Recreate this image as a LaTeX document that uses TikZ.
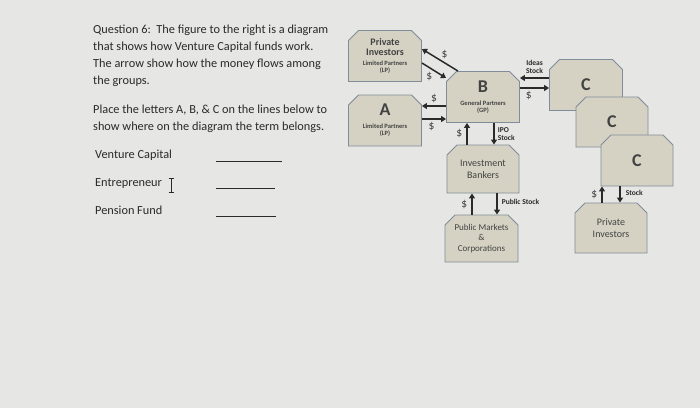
\documentclass[tikz,border=0pt]{standalone}
\usepackage{fontspec}
\setmainfont{Carlito}
\usetikzlibrary{arrows.meta, shapes.misc}
\definecolor{PaperGray}{HTML}{E6E6E4}
\definecolor{BoxFill}  {HTML}{D5D2C3}
\definecolor{BoxStroke}{HTML}{808C9A}
\definecolor{InkGray}  {HTML}{2A2A2A}
\definecolor{BoxInk}   {HTML}{424242}
\tikzset{
  vcbox/.style={
    chamfered rectangle, chamfered rectangle corners={north west, north east},
    chamfered rectangle xsep=5pt, chamfered rectangle ysep=5pt,
    draw=BoxStroke, fill=BoxFill, line width=0.9pt,
    minimum width=73pt, minimum height=51pt, inner sep=1pt,
    align=center, text=BoxInk, font=\fontsize{10}{12}\selectfont,
  },
  flow/.style={
    -{Triangle[length=5pt,width=6pt]}, draw=InkGray, line width=1.5pt,
  },
  dollar/.style={font=\fontsize{11.5}{13}\selectfont, text=BoxInk, inner sep=1pt},
  flowtxt/.style={
    font=\fontsize{7.5}{8}\selectfont\bfseries, text=InkGray,
    inner sep=1pt, align=left,
  },
  qtext/.style={
    anchor=base west, inner sep=0pt, text=InkGray,
    font=\fontsize{12.3}{14}\selectfont,
  },
  blank/.style={draw=InkGray, line width=0.6pt},
}
\newcommand{\tinyline}[1]{{\fontsize{6.5}{7}\selectfont\bfseries #1}}
\newcommand{\bigletter}[1]{{\fontsize{18}{18}\selectfont\bfseries #1}}

\begin{document}
\begin{tikzpicture}[x=1pt, y=-1pt]

% ── Page ──────────────────────────────────────────────────────────────────
\fill[PaperGray] (0,0) rectangle (700,408);
\path[use as bounding box] (0,0) rectangle (700,408);

% ── Question text (pixel grid, y down) ────────────────────────────────────
\node[qtext] (Q1) at (93, 33) {Question 6:\ \ The figure to the right is a diagram};
\node[qtext] (Q2) at (93, 50) {that shows how Venture Capital funds work.};
\node[qtext] (Q3) at (93, 67) {The arrow show how the money flows among};
\node[qtext] (Q4) at (93, 84) {the groups.};
\node[qtext] (Q5) at (93,113) {Place the letters A, B, \& C on the lines below to};
\node[qtext] (Q6) at (93,130) {show where on the diagram the term belongs.};
\node[qtext] (T1) at (95,158) {Venture Capital};
\node[qtext] (T2) at (95,186) {Entrepreneur};
\node[qtext] (T3) at (95,214) {Pension Fund};

% answer lines
\draw[blank] (216,161) -- (282,161);
\draw[blank] (216,188) -- (275,188);
\draw[blank] (216,216) -- (276,216);

% text cursor after Entrepreneur
\draw[InkGray, line width=0.7pt]
  (168.5,178.5) -- (173.5,178.5) (171,178.5) -- (171,192.5) (168.5,192.5) -- (173.5,192.5);

% ── Boxes ─────────────────────────────────────────────────────────────────
\node[vcbox] (PI) at (385, 56)
  {{\bfseries Private}\\[-2pt]{\bfseries Investors}\\[-2pt]\tinyline{Limited Partners}\\[-5pt]\tinyline{(LP)}};
\node[vcbox] (A)  at (385,120.5)
  {\bigletter{A}\\[1pt]\tinyline{Limited Partners}\\[-5pt]\tinyline{(LP)}};
\node[vcbox] (B)  at (483, 97)
  {\bigletter{B}\\[1pt]\tinyline{General Partners}\\[-5pt]\tinyline{(GP)}};
\node[vcbox, minimum width=72pt, minimum height=48pt] (IB) at (483,169)
  {Investment\\Bankers};
\node[vcbox, minimum height=47pt, font=\fontsize{9}{10.5}\selectfont] (PM) at (481.5,238.5)
  {Public Markets\\\&\\Corporations};

% stacked C boxes, back to front
\node[vcbox] (C1) at (586, 85)  {\bigletter{C}};
\node[vcbox, minimum width=72pt, minimum height=50pt] (C2) at (612,122) {\bigletter{C}};
\node[vcbox, minimum width=72pt] (C3) at (637,160.5) {\bigletter{C}};
\node[vcbox, minimum width=72pt, minimum height=50pt] (PI2) at (611,228)
  {Private\\Investors};

% ── Money and stock flows ─────────────────────────────────────────────────
\draw[flow] ([xshift=-25pt]B.north) -- ([yshift=7pt]PI.east)
  node[dollar, midway, anchor=south west] (d1) {\$};
\draw[flow] ([yshift=-7pt]PI.east) -- ([yshift=19pt]B.west)
  node[dollar, midway, anchor=north east] (d2) {\$};

\draw[flow] ([yshift=-9pt]B.west) -- ([yshift=14.5pt]A.east)
  node[dollar, midway, above=1pt] (d3) {\$};
\draw[flow] ([yshift=1.5pt]A.east) -- ([yshift=-22pt]B.west)
  node[dollar, pos=0.4, below=1pt] (d4) {\$};

\draw[flow] ([xshift=-16pt]IB.north) -- ([xshift=-16pt]B.south)
  node[dollar, midway, left=3pt] (d5) {\$};
\draw[flow] ([xshift=11pt]B.south) -- ([xshift=11pt]IB.north)
  node[flowtxt, midway, right=2pt] (ipo) {IPO\\Stock};

\draw[flow] ([yshift=7pt]C1.west) -- ([yshift=19pt]B.east)
  node[flowtxt, midway, above=3pt, align=center] (ideas) {Ideas\\Stock};
\draw[flow] ([yshift=9pt]B.east) -- ([yshift=-3pt]C1.west)
  node[dollar, pos=0.3, below=1pt] (d6) {\$};

\draw[flow] ([xshift=-9.5pt]PM.north) -- ([xshift=-11pt]IB.south)
  node[dollar, midway, left=3pt] (d7) {\$};
\draw[flow] ([xshift=14pt]IB.south) -- ([xshift=15.5pt]PM.north)
  node[flowtxt, pos=0.4, right=3pt] (pubstock) {Public Stock};

\draw[flow] ([xshift=-9pt]PI2.north) -- ([xshift=-35pt]C3.south)
  node[dollar, midway, left=3pt] (d8) {\$};
\draw[flow] ([xshift=-17pt]C3.south) -- ([xshift=9pt]PI2.north)
  node[flowtxt, pos=0.4, right=4pt] (stock) {Stock};

\end{tikzpicture}
\end{document}
